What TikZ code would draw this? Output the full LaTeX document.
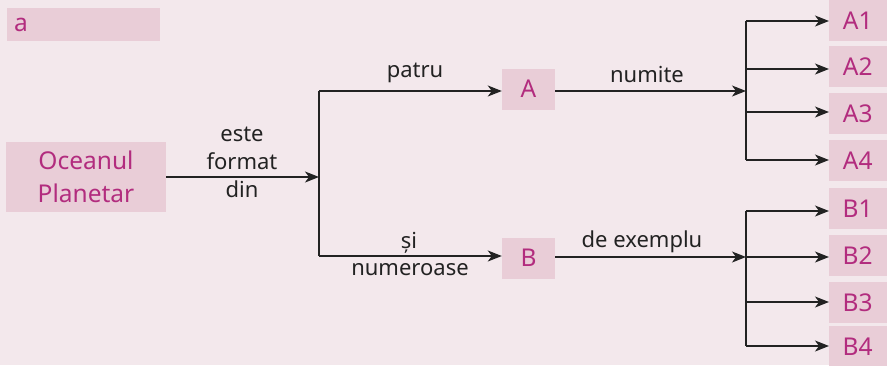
\documentclass[tikz,border=0pt]{standalone}
\usepackage{fontspec}
\setmainfont{Noto Sans}
\usetikzlibrary{arrows.meta}
\definecolor{bgc}{HTML}{F3E8EC}
\definecolor{boxc}{HTML}{E9CDD7}
\definecolor{magc}{HTML}{B22C7E}
\definecolor{linec}{HTML}{222222}
\tikzset{
  box/.style={fill=boxc, text=magc, inner sep=0pt, font=\fontsize{24.5}{33}\selectfont, align=center},
  lbl/.style={text=linec, inner sep=0pt, font=\fontsize{22}{28}\selectfont, align=center},
  conn/.style={draw=linec, line width=1.4pt},
  arr/.style={conn, -{Stealth[length=14pt,width=11pt,inset=4pt]}}
}
\begin{document}
\begin{tikzpicture}[x=1pt,y=-1pt]
\fill[bgc] (0,0) rectangle (887,365);
\useasboundingbox (0,0) rectangle (887,365);
\node[box, anchor=north west, minimum width=153pt, minimum height=33pt, text width=139pt, align=left] (a) at (7,8) {a};
\node[box, minimum width=160pt, minimum height=70pt] (ocean) at (86,177) {Oceanul\\Planetar};
\node[box, minimum width=53pt, minimum height=41pt] (A) at (528.5,89) {A};
\node[box, minimum width=53pt, minimum height=41pt] (B) at (528.5,258) {B};
\foreach \n/\y in {A1/20.5, A2/66.5, A3/113.5, A4/160.5, B1/208.5, B2/255.5, B3/302.5, B4/346.5}{
  \node[box, anchor=west, minimum width=66pt, minimum height=41pt] (\n) at (829,\y) {\hspace*{-9pt}\n};
}
\coordinate (jtop) at (319,91);
\coordinate (jbot) at (319,256);
\coordinate (jmid) at (319,177);
\coordinate (ba) at (746,91);
\coordinate (ba1) at (746,21);
\coordinate (ba2) at (746,69);
\coordinate (ba3) at (746,112);
\coordinate (ba4) at (746,160);
\coordinate (bb) at (746,257);
\coordinate (bb1) at (746,211);
\coordinate (bb2) at (746,257);
\coordinate (bb3) at (746,302);
\coordinate (bb4) at (746,346);
\draw[arr] (ocean.east) -- (jmid);
\draw[conn] (jtop) -- (jbot);
\draw[arr] (jtop) -- (A.west |- jtop);
\draw[arr] (jbot) -- (B.west |- jbot);
\draw[arr] (A.east |- ba) -- (ba);
\draw[arr] (B.east |- bb) -- (bb);
\draw[conn] (ba1) -- (ba4);
\draw[conn] (bb1) -- (bb4);
\foreach \i in {1,2,3,4}{
  \draw[arr] (ba\i) -- (A\i.west |- ba\i);
  \draw[arr] (bb\i) -- (B\i.west |- bb\i);
}
\node[lbl] (l1) at (242,162) {este\\format\\din};
\node[lbl] (l2) at (415,73) {patru};
\node[lbl] (l3) at (647,74) {numite};
\node[lbl] (l4) at (409,243) {și};
\node[lbl] (l5) at (410,270) {numeroase};
\node[lbl] (l6) at (642,242) {de exemplu};
\end{tikzpicture}
\end{document}
